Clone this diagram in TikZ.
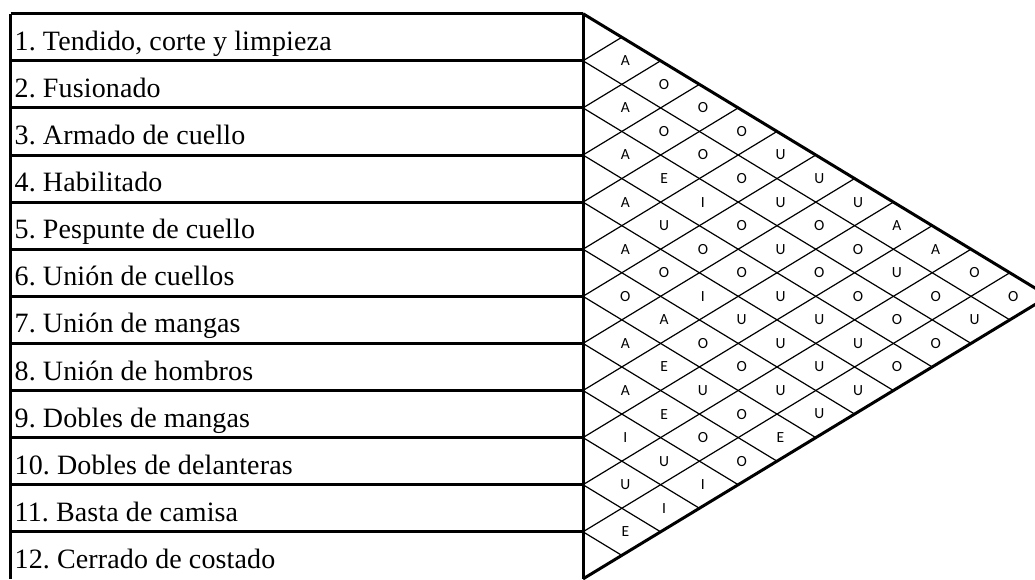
\documentclass[tikz,border=0pt]{standalone}
\usepackage{fontspec}
\setmainfont[LetterSpace=0.5]{Liberation Serif}
\newfontfamily\lettfont{Carlito}
\frenchspacing
\begin{document}
\begin{tikzpicture}[x=1pt,y=-1pt,
  thickline/.style={line width=3pt},
  gridline/.style={line width=1.2pt},
  rowlabel/.style={anchor=base west, inner sep=0pt, font=\fontsize{28}{30}\selectfont},
  rel/.style={inner sep=0pt, font=\lettfont\fontsize{15.5}{18}\selectfont}]
\useasboundingbox (0,0) rectangle (1035,579);
\def\W{38.8}
% left edge points, top edge points, bottom edge points
\foreach \n in {0,...,12}{
  \coordinate (P\n) at (583,{13.7+47.1*\n});
  \coordinate (L\n) at (10.5,{13.7+47.1*\n});
  \coordinate (T\n) at ({583+\n*\W},{13.7+23.55*\n});
  \coordinate (B\n) at ({583+(12-\n)*\W},{296.3+23.55*\n});
}
\coordinate (apex) at ({583+12*\W},296.3);
% grid
\foreach \n in {1,...,11}{
  \draw[gridline] (P\n) -- (T\n);
  \draw[gridline] (P\n) -- (B\n);
}
% table
\foreach \n in {0,...,11}{
  \draw[thickline] (L\n) -- (P\n);
}
\draw[thickline] (L0) -- (L12);
\draw[thickline] (P0) -- (P12);
\draw[thickline, line join=miter] (P0) -- (apex) -- (P12);
% row labels
\foreach \n/\t in {1/{1. Tendido, corte y limpieza},2/{2. Fusionado},3/{3. Armado de cuello},
  4/{4. Habilitado},5/{5. Pespunte de cuello},6/{6. Unión de cuellos},7/{7. Unión de mangas},
  8/{8. Unión de hombros},9/{9. Dobles de mangas},10/{10. Dobles de delanteras},
  11/{11. Basta de camisa},12/{12. Cerrado de costado}}{
  \node[rowlabel] (r\n) at (14.5,{13.7+47.1*\n-10.5}) {\t};
}
% relationship letters
\foreach \i/\j/\t in {
 1/2/A,2/3/A,3/4/A,4/5/A,5/6/A,6/7/O,7/8/A,8/9/A,9/10/I,10/11/U,11/12/E,
 1/3/O,2/4/O,3/5/E,4/6/U,5/7/O,6/8/A,7/9/E,8/10/E,9/11/U,10/12/I,
 1/4/O,2/5/O,3/6/I,4/7/O,5/8/I,6/9/O,7/10/U,8/11/O,9/12/I,
 1/5/O,2/6/O,3/7/O,4/8/O,5/9/U,6/10/O,7/11/O,8/12/O,
 1/6/U,2/7/U,3/8/U,4/9/U,5/10/U,6/11/U,7/12/E,
 1/7/U,2/8/O,3/9/O,4/10/U,5/11/U,6/12/U,
 1/8/U,2/9/O,3/10/O,4/11/U,5/12/U,
 1/9/A,2/10/U,3/11/O,4/12/O,
 1/10/A,2/11/O,3/12/O,
 1/11/O,2/12/U,
 1/12/O}{
  \node[rel] (c\i-\j) at ({583+(\j-\i)*\W+3.5},{13.7+47.1*(\i+\j-1)/2}) {\t};
}
\end{tikzpicture}
\end{document}
